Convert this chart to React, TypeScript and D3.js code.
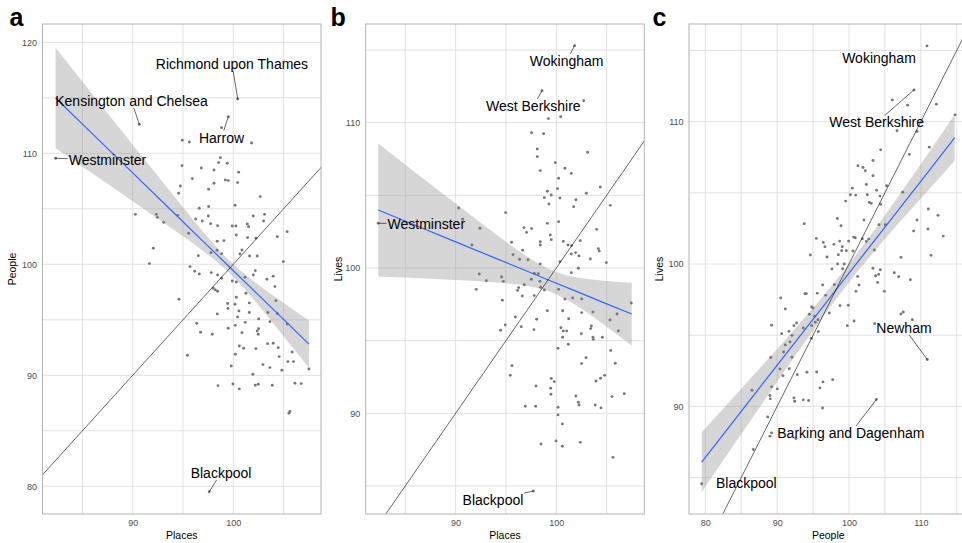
import React, { useEffect, useRef } from 'react';
import * as d3 from 'd3';

type Pt = [number, number];
type Smooth = { x: number; fit: number; lo: number; hi: number };
type Label = { name: string; x: number; y: number; lx: number; ly: number; seg: boolean };

// Panel a: Places vs People
const pointsA: Pt[] = [
  [98.84, 112.31], [94.93, 111.17], [95.63, 111.02], [101.82, 110.93], [98.71, 109.61], [98.54, 109.16],
  [99.4, 109.1], [94.9, 108.89], [96.82, 108.68], [98.08, 108.5], [100.53, 108.29], [95.93, 107.72],
  [99.21, 107.6], [99.5, 107.54], [98.08, 107.3], [100.43, 107.36], [94.74, 107.06], [97.55, 106.76],
  [94.57, 106.4], [102.68, 106.1], [100.17, 105.32], [97.55, 105.2], [96.62, 105.05], [92.35, 104.5],
  [92.45, 104.23], [101.99, 104.35], [103.11, 104.5], [94.47, 104.41], [96.26, 104.08], [97.52, 104.35],
  [96.92, 103.9], [103.01, 103.9], [93.08, 103.78], [97.75, 103.66], [98.44, 103.48], [99.9, 103.45],
  [100.26, 103.45], [101.39, 103.63], [101.52, 103.39], [105.36, 102.94], [104.37, 102.49], [100.3, 102.64],
  [95.56, 102.79], [101.42, 102.4], [102.25, 102.34], [98.41, 102.07], [99.07, 102.13], [92.05, 101.44],
  [97.78, 101.05], [98.38, 101.26], [98.84, 100.96], [96.52, 100.78], [100.86, 101.29], [100.66, 100.93],
  [101.62, 100.75], [102.38, 100.75], [91.66, 100.06], [104.97, 100.24], [95.7, 99.79], [90.26, 104.5],
  [96.16, 99.37], [96.62, 99.13], [97.81, 99.25], [98.44, 99.04], [98.84, 98.74], [101.16, 98.83],
  [101.99, 99.04], [102.19, 99.43], [103.34, 98.65], [103.97, 98.92], [104.14, 97.99], [99.9, 98.5],
  [100.3, 98.41], [98.01, 97.84], [98.21, 97.69], [98.44, 97.57], [101.26, 97.39], [94.6, 96.85],
  [100.3, 97.03], [99.44, 96.46], [100.17, 96.4], [101.59, 96.52], [104.24, 96.73], [99.47, 96.01],
  [100.56, 95.8], [101.59, 95.65], [103.44, 95.65], [98.41, 95.53], [100.43, 95.26], [102.52, 95.08],
  [104.37, 95.56], [103.64, 94.83], [101.19, 94.77], [100.2, 94.5], [96.36, 94.68], [99.5, 94.23],
  [102.52, 94.2], [102.38, 93.99], [102.48, 93.69], [96.75, 93.87], [97.91, 93.69], [100.86, 93.84],
  [105.36, 94.62], [103.41, 92.85], [103.97, 92.88], [100.6, 92.64], [101.03, 92.43], [102.25, 92.4],
  [104.47, 92.49], [105.86, 92.1], [95.43, 91.8], [100.2, 91.89], [104.57, 91.68], [105.43, 91.23],
  [105.99, 91.23], [99.8, 90.84], [102.95, 90.96], [103.64, 90.69], [104.83, 90.45], [107.52, 90.57],
  [101.95, 90.09], [98.48, 89.07], [99.97, 89.22], [100.6, 88.77], [102.19, 89.1], [102.48, 89.19],
  [103.87, 89.1], [106.13, 89.28], [106.75, 89.25], [105.63, 86.73], [105.53, 86.58],
  [100.44, 114.89], [90.66, 112.61], [99.5, 113.3], [82.33, 109.55], [97.61, 79.51],
];

// lm fit with its confidence band
const smoothA: Smooth[] = [
  { x: 82.33, fit: 114.98, lo: 110.46, hi: 119.5 },
  { x: 86, fit: 111.75, lo: 108.17, hi: 115.33 },
  { x: 90, fit: 108.23, lo: 105.68, hi: 110.78 },
  { x: 94, fit: 104.71, lo: 103.15, hi: 106.27 },
  { x: 97, fit: 102.07, lo: 101.2, hi: 102.94 },
  { x: 99.6, fit: 99.78, lo: 99.23, hi: 100.33 },
  { x: 102, fit: 97.67, lo: 96.84, hi: 98.5 },
  { x: 105, fit: 95.03, lo: 93.52, hi: 96.54 },
  { x: 107.52, fit: 92.81, lo: 90.68, hi: 94.94 },
];

const labelsA: Label[] = [
  { name: 'Richmond upon Thames', x: 100.44, y: 114.89, lx: 99.87, ly: 118.05, seg: true },
  { name: 'Kensington and Chelsea', x: 90.66, y: 112.61, lx: 89.88, ly: 114.71, seg: true },
  { name: 'Harrow', x: 99.5, y: 113.3, lx: 98.83, ly: 111.41, seg: true },
  { name: 'Westminster', x: 82.33, y: 109.55, lx: 87.49, ly: 109.4, seg: true },
  { name: 'Blackpool', x: 97.61, y: 79.51, lx: 98.78, ly: 81.2, seg: true },
];

// Panel b: Places vs Lives
const pointsB: Pt[] = [
  [102.72, 111.51], [99.21, 110.28], [100.43, 110.41], [97.55, 109.31], [98.74, 109.24], [98.11, 108.19],
  [98.11, 107.66], [103.11, 107.96], [99.9, 107.25], [100.86, 106.86], [101.49, 106.51], [98.41, 106.7],
  [100.23, 106.17], [100.13, 105.46], [104.37, 105.57], [99.11, 105.28], [98.81, 104.84], [99.5, 105.02],
  [100.36, 104.82], [102.98, 105.14], [101.95, 104.7], [99.27, 104.4], [101.72, 104.22], [105.36, 104.31],
  [90.3, 104.13], [94.97, 103.81], [90.7, 103.35], [100.23, 103.19], [99.11, 103.07], [92.42, 102.73],
  [96.79, 102.78], [97.55, 102.71], [97.05, 102.45], [104.01, 102.66], [99.4, 102.27], [99.5, 101.95],
  [98.41, 101.81], [98.41, 101.58], [100.7, 101.83], [101.16, 101.58], [101.52, 101.54], [102.38, 101.88],
  [95.56, 101.77], [91.62, 101.58], [104.17, 101.33],
  [96.66, 101.22], [95.7, 100.92], [96.36, 100.6], [97.19, 100.57], [98.41, 100.28], [100.36, 100.44],
  [101.49, 100.96], [101.92, 101.06], [102.25, 100.83], [103.38, 100.62], [104.27, 101.17], [104.97, 100.37],
  [92.35, 99.59], [93.05, 99.13], [94.57, 99.38], [94.74, 99.08], [97.81, 99.63], [98.21, 99.61],
  [98.38, 99.08], [97.52, 99.22], [96.82, 98.85], [96.26, 98.65], [96.16, 98.46], [98.44, 98.67],
  [98.81, 98.49], [100.23, 98.53], [101.49, 99.68], [102.19, 99.98], [92.05, 98.53], [96.62, 98.07],
  [97.81, 98.1], [100.86, 97.87], [101.62, 97.94], [102.52, 97.87], [107.45, 97.59], [94.64, 97.78],
  [99.11, 97.06], [100.63, 97.06], [102.52, 96.93], [103.64, 96.97], [95.93, 96.63], [98.05, 96.47],
  [101.23, 96.51], [105.33, 96.42], [106.03, 96.83], [94.93, 96.08], [94.47, 95.71], [96.52, 95.96],
  [97.78, 95.76], [100.46, 95.89], [100.7, 95.67], [101.03, 95.67], [100.63, 95.23], [102.48, 95.48],
  [103.48, 96.01], [103.41, 95.83], [103.64, 95.23], [103.68, 95.09], [104.57, 95.23], [106.16, 95.67],
  [100.17, 94.47], [101.19, 94.75], [105.4, 94.33], [102.95, 93.83], [102.52, 93.42], [105.86, 93.44],
  [95.6, 93.28], [95.43, 92.61], [99.5, 92.39], [99.8, 92.18], [97.98, 91.88], [99.44, 91.72],
  [99.47, 91.31], [103.94, 92.22], [104.4, 92.41], [104.8, 92.61], [101.95, 91.19], [102.19, 90.76],
  [102.25, 90.57], [105.53, 91.15], [106.75, 91.35], [96.92, 90.48], [97.95, 90.48], [100.17, 90.41],
  [103.87, 90.57], [104.44, 90.37], [100.17, 89.89], [100.6, 89.27], [98.48, 87.89], [99.97, 88.1],
  [100.6, 87.73], [102.38, 88.0], [105.63, 86.97],
  [101.82, 115.3], [98.58, 112.2], [82.32, 103.08], [97.72, 84.65],
];

const smoothB: Smooth[] = [
  { x: 82.32, fit: 103.99, lo: 99.42, hi: 108.56 },
  { x: 86, fit: 102.94, lo: 99.31, hi: 106.57 },
  { x: 90, fit: 101.8, lo: 99.17, hi: 104.43 },
  { x: 94, fit: 100.66, lo: 99.0, hi: 102.32 },
  { x: 97, fit: 99.81, lo: 98.78, hi: 100.84 },
  { x: 99.7, fit: 99.04, lo: 98.28, hi: 99.8 },
  { x: 102, fit: 98.39, lo: 97.42, hi: 99.36 },
  { x: 105, fit: 97.53, lo: 95.96, hi: 99.1 },
  { x: 107.49, fit: 96.83, lo: 94.67, hi: 98.99 },
];

const labelsB: Label[] = [
  { name: 'Wokingham', x: 101.82, y: 115.3, lx: 101.03, ly: 114.25, seg: true },
  { name: 'West Berkshire', x: 98.58, y: 112.2, lx: 97.72, ly: 111.15, seg: true },
  { name: 'Westminster', x: 82.32, y: 103.08, lx: 87.09, ly: 103.03, seg: true },
  { name: 'Blackpool', x: 97.72, y: 84.65, lx: 93.71, ly: 84.03, seg: true },
];

// Panel c: People vs Lives
const pointsC: Pt[] = [
  [106.03, 111.53], [112.16, 111.23], [108.17, 111.16], [106.68, 109.36], [109.47, 109.31], [114.76, 110.48],
  [104.41, 108.02], [111.18, 108.21], [108.4, 107.7], [103.34, 107.27], [101.25, 106.9], [101.95, 106.78],
  [102.27, 106.55], [103.34, 106.2], [102.41, 105.59], [100.46, 105.33], [103.85, 105.19], [105.24, 105.5],
  [107.47, 105.05], [99.54, 104.42], [100.19, 104.87], [100.93, 104.84], [102.55, 104.87], [104.32, 104.77],
  [102.83, 104.33], [103.11, 104.26], [104.41, 104.19], [111.04, 103.86], [112.39, 103.42], [102.09, 103.09],
  [98.38, 103.2], [93.78, 102.83], [98.89, 102.69], [104.18, 102.76], [105.06, 102.76], [109.47, 103.09],
  [109.0, 102.32], [111.0, 102.46], [113.13, 101.96], [95.45, 101.8], [96.43, 101.52], [96.66, 101.22],
  [97.91, 101.38], [98.7, 101.61], [99.95, 101.61], [100.65, 101.89], [100.88, 101.85], [99.07, 101.22],
  [98.98, 100.94], [99.63, 100.94], [101.86, 101.78], [102.74, 101.75], [102.41, 101.59], [94.62, 100.63],
  [96.94, 100.49], [98.52, 100.65], [100.56, 100.91], [103.53, 100.98], [107.24, 100.47], [111.42, 100.61],
  [98.42, 100.0], [99.35, 100.0], [99.12, 99.67], [97.63, 99.65], [103.34, 99.7], [103.71, 99.18],
  [104.13, 99.27], [104.36, 99.6], [103.99, 98.71], [106.31, 99.39], [106.91, 99.11], [108.54, 98.9],
  [101.21, 99.13], [101.39, 98.53], [100.97, 98.08], [104.92, 98.08], [96.33, 98.53], [95.59, 97.94],
  [93.87, 97.92], [94.06, 97.92], [96.75, 97.8], [97.96, 98.55], [98.75, 97.08], [99.91, 97.1],
  [97.26, 96.56], [90.49, 97.61], [91.14, 96.84], [94.8, 96.98], [94.99, 96.91], [94.48, 96.47],
  [95.22, 96.33], [95.68, 96.09], [95.31, 95.91], [94.8, 95.67], [95.73, 95.25], [94.76, 94.78],
  [93.64, 95.51], [92.71, 95.86], [92.34, 95.67], [91.65, 95.27], [90.63, 95.11], [89.23, 95.7],
  [100.7, 96.0], [99.77, 95.67], [103.57, 95.81], [107.24, 96.49], [107.56, 96.63], [108.82, 96.09],
  [92.06, 94.99], [91.79, 94.53], [91.14, 94.32], [90.9, 93.82], [89.1, 93.43], [92.06, 93.45],
  [90.39, 92.63], [91.69, 92.65], [90.81, 92.16], [92.81, 92.23], [94.15, 92.4], [95.5, 92.42],
  [96.38, 91.72], [97.73, 91.88], [95.96, 91.3], [90.02, 91.23], [89.23, 91.37], [86.5, 91.13],
  [89.0, 90.76], [89.05, 90.53], [92.34, 90.6], [92.44, 90.36], [93.64, 90.46], [94.38, 90.41],
  [96.33, 89.89], [88.68, 89.26], [89.23, 88.14], [89.0, 87.91], [92.62, 87.74], [86.68, 86.97],
  [110.86, 115.32], [109.05, 112.23], [110.9, 93.29], [103.81, 90.48], [79.49, 84.56],
];

const smoothC: Smooth[] = [
  { x: 79.5, fit: 86.08, lo: 83.98, hi: 88.18 },
  { x: 84, fit: 89.0, lo: 87.32, hi: 90.68 },
  { x: 88, fit: 91.59, lo: 90.26, hi: 92.92 },
  { x: 92, fit: 94.18, lo: 93.18, hi: 95.18 },
  { x: 96, fit: 96.76, lo: 96.02, hi: 97.5 },
  { x: 99.7, fit: 99.16, lo: 98.51, hi: 99.81 },
  { x: 103, fit: 101.29, lo: 100.56, hi: 102.02 },
  { x: 107, fit: 103.88, lo: 102.91, hi: 104.85 },
  { x: 111, fit: 106.45, lo: 105.16, hi: 107.74 },
  { x: 114.72, fit: 108.88, lo: 107.26, hi: 110.5 },
];

const labelsC: Label[] = [
  { name: 'Wokingham', x: 110.86, y: 115.32, lx: 104.18, ly: 114.46, seg: false },
  { name: 'West Berkshire', x: 109.05, y: 112.23, lx: 103.86, ly: 109.94, seg: true },
  { name: 'Newham', x: 110.9, y: 93.29, lx: 107.66, ly: 95.51, seg: true },
  { name: 'Barking and Dagenham', x: 103.81, y: 90.48, lx: 100.26, ly: 88.14, seg: true },
  { name: 'Blackpool', x: 79.49, y: 84.56, lx: 85.71, ly: 84.63, seg: false },
];

// axis limits and ticks
const xDomainA = [81.03, 108.72];
const yDomainA = [77.5, 121.65];
const xDomainB = [81.07, 108.74];
const yDomainB = [83.07, 116.79];
const xDomainC = [77.73, 116.5];
const yDomainC = [82.44, 116.86];

const xTicksA = [90, 100];
const yTicksA = [80, 90, 100, 110, 120];
const xGridA = [85, 90, 95, 100, 105];
const yGridA = [80, 85, 90, 95, 100, 105, 110, 115, 120];

const xTicksB = [90, 100];
const yTicksB = [90, 100, 110];
const xGridB = [85, 90, 95, 100, 105];
const yGridB = [85, 90, 95, 100, 105, 110, 115];

const xTicksC = [80, 90, 100, 110];
const yTicksC = [90, 100, 110];
const xGridC = [80, 85, 90, 95, 100, 105, 110, 115];
const yGridC = [85, 90, 95, 100, 105, 110, 115];

const WIDTH = 962;
const HEIGHT = 543;
const TOP = 24;
const BOTTOM = 514;
const FONT = '"Liberation Sans", Arial, Helvetica, sans-serif';

const panels = [
  {
    letter: 'a', letterX: 9.5, left: 42.5, right: 321, titleX: 15.8,
    xDomain: xDomainA, yDomain: yDomainA, xTicks: xTicksA, yTicks: yTicksA, xGrid: xGridA, yGrid: yGridA,
    points: pointsA, smooth: smoothA, labels: labelsA, xTitle: 'Places', yTitle: 'People',
  },
  {
    letter: 'b', letterX: 330.5, left: 365.7, right: 644.3, titleX: 341.6,
    xDomain: xDomainB, yDomain: yDomainB, xTicks: xTicksB, yTicks: yTicksB, xGrid: xGridB, yGrid: yGridB,
    points: pointsB, smooth: smoothB, labels: labelsB, xTitle: 'Places', yTitle: 'Lives',
  },
  {
    letter: 'c', letterX: 652.5, left: 689, right: 967.5, titleX: 663,
    xDomain: xDomainC, yDomain: yDomainC, xTicks: xTicksC, yTicks: yTicksC, xGrid: xGridC, yGrid: yGridC,
    points: pointsC, smooth: smoothC, labels: labelsC, xTitle: 'People', yTitle: 'Lives',
  },
];

const drawPanel = (svg: any, p: any) => {
  const x = d3.scaleLinear().domain(p.xDomain).range([p.left, p.right]);
  const y = d3.scaleLinear().domain(p.yDomain).range([BOTTOM, TOP]);
  const g = svg.append('g');
  const clipId = `clip-${p.letter}`;

  g.append('clipPath')
    .attr('id', clipId)
    .append('rect')
    .attr('x', p.left)
    .attr('y', TOP)
    .attr('width', p.right - p.left)
    .attr('height', BOTTOM - TOP);

  // gridlines
  g.selectAll('.vgrid')
    .data(p.xGrid)
    .enter()
    .append('line')
    .attr('x1', (d: number) => x(d))
    .attr('x2', (d: number) => x(d))
    .attr('y1', TOP)
    .attr('y2', BOTTOM)
    .attr('stroke', '#dedede')
    .attr('stroke-width', 0.9);

  g.selectAll('.hgrid')
    .data(p.yGrid)
    .enter()
    .append('line')
    .attr('x1', p.left)
    .attr('x2', p.right)
    .attr('y1', (d: number) => y(d))
    .attr('y2', (d: number) => y(d))
    .attr('stroke', '#dedede')
    .attr('stroke-width', 0.9);

  const plot = g.append('g').attr('clip-path', `url(#${clipId})`);

  // confidence band
  const band = d3
    .area<Smooth>()
    .x((d) => x(d.x))
    .y0((d) => y(d.lo))
    .y1((d) => y(d.hi))
    .curve(d3.curveMonotoneX);
  plot.append('path').datum(p.smooth).attr('d', band).attr('fill', '#999999').attr('fill-opacity', 0.4);

  // points
  plot
    .selectAll('.pt')
    .data(p.points)
    .enter()
    .append('circle')
    .attr('cx', (d: Pt) => x(d[0]))
    .attr('cy', (d: Pt) => y(d[1]))
    .attr('r', 1.45)
    .attr('fill', '#777777');

  // fitted line
  const fit = d3
    .line<Smooth>()
    .x((d) => x(d.x))
    .y((d) => y(d.fit));
  plot
    .append('path')
    .datum(p.smooth)
    .attr('d', fit)
    .attr('fill', 'none')
    .attr('stroke', '#3366FF')
    .attr('stroke-width', 1.2);

  // y = x reference line
  const lo = Math.min(p.xDomain[0], p.yDomain[0]);
  const hi = Math.max(p.xDomain[1], p.yDomain[1]);
  plot
    .append('line')
    .attr('x1', x(lo))
    .attr('y1', y(lo))
    .attr('x2', x(hi))
    .attr('y2', y(hi))
    .attr('stroke', '#000')
    .attr('stroke-width', 0.6);

  // panel border
  g.append('rect')
    .attr('x', p.left)
    .attr('y', TOP)
    .attr('width', p.right - p.left)
    .attr('height', BOTTOM - TOP)
    .attr('fill', 'none')
    .attr('stroke', '#b3b3b3')
    .attr('stroke-width', 1);

  // axes
  const xAxis = g
    .append('g')
    .attr('transform', `translate(0,${BOTTOM})`)
    .call(d3.axisBottom(x).tickValues(p.xTicks).tickSize(0).tickPadding(5.5));
  xAxis.select('.domain').remove();
  xAxis.selectAll('text').style('font-size', '9px').style('font-family', FONT).style('fill', '#4d4d4d');

  const yAxis = g
    .append('g')
    .attr('transform', `translate(${p.left},0)`)
    .call(d3.axisLeft(y).tickValues(p.yTicks).tickSize(0).tickPadding(5.5));
  yAxis.select('.domain').remove();
  yAxis.selectAll('text').style('font-size', '9px').style('font-family', FONT).style('fill', '#4d4d4d');

  // axis titles
  g.append('text')
    .attr('x', (p.left + p.right) / 2)
    .attr('y', 538.5)
    .attr('text-anchor', 'middle')
    .style('font-family', FONT)
    .style('font-size', '10.5px')
    .style('fill', '#000')
    .text(p.xTitle);

  g.append('text')
    .attr('transform', `translate(${p.titleX},${(TOP + BOTTOM) / 2}) rotate(-90)`)
    .attr('text-anchor', 'middle')
    .style('font-family', FONT)
    .style('font-size', '10.5px')
    .style('fill', '#000')
    .text(p.yTitle);

  // panel letter
  g.append('text')
    .attr('x', p.letterX)
    .attr('y', 25.5)
    .style('font-family', FONT)
    .style('font-size', '25px')
    .style('font-weight', 'bold')
    .style('fill', '#000')
    .text(p.letter);

  // repelled labels with connector segments
  p.labels.forEach((l: Label) => {
    const cx = x(l.lx);
    const cy = y(l.ly);
    const t = g
      .append('text')
      .attr('x', cx)
      .attr('y', cy)
      .attr('dy', '0.35em')
      .attr('text-anchor', 'middle')
      .style('font-family', FONT)
      .style('font-size', '14px')
      .style('fill', '#000')
      .text(l.name);

    if (!l.seg) return;
    const w = (t.node() as SVGTextElement).getComputedTextLength();
    const hw = w / 2 + 1;
    const hh = 7;
    const px = x(l.x);
    const py = y(l.y);
    const dx = px - cx;
    const dy = py - cy;
    const tt = Math.min(dx !== 0 ? hw / Math.abs(dx) : Infinity, dy !== 0 ? hh / Math.abs(dy) : Infinity);
    if (tt >= 1) return;
    g.append('line')
      .attr('x1', cx + dx * tt)
      .attr('y1', cy + dy * tt)
      .attr('x2', px)
      .attr('y2', py)
      .attr('stroke', '#000')
      .attr('stroke-width', 0.6);
  });
};

const App = () => {
  const svgRef = useRef<SVGSVGElement>(null);

  useEffect(() => {
    const svg = d3.select(svgRef.current);
    svg.selectAll('*').remove();
    panels.forEach((p) => drawPanel(svg, p));
  }, []);

  return (
    <svg
      ref={svgRef}
      width={WIDTH}
      height={HEIGHT}
      style={{ position: 'absolute', left: 0, top: 0, background: '#fff' }}
    />
  );
};

export default App;
